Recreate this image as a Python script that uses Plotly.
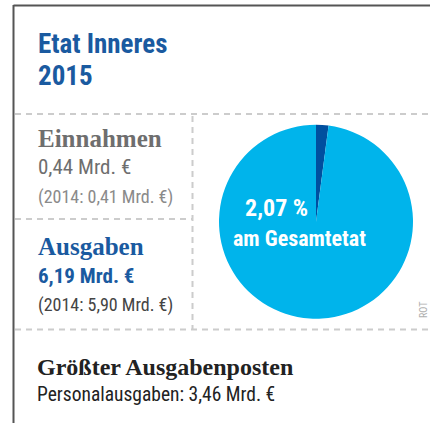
import plotly.graph_objects as go

# ---- data ----
slice_labels = ["Etat Inneres", "Übriger Gesamtetat"]
slice_values = [2.07, 97.93]
slice_colors = ["#004f9f", "#00b4eb"]

title_lines = ["Etat Inneres", "2015"]
einnahmen = ["Einnahmen", "0,44 Mrd. €", "(2014: 0,41 Mrd. €)"]
ausgaben = ["Ausgaben", "6,19 Mrd. €", "(2014: 5,90 Mrd. €)"]
posten = ["Größter Ausgabenposten", "Personalausgaben: 3,46 Mrd. €"]
pie_label = ["2,07 %", "am Gesamtetat"]
source = "ROT"

W, H = 430, 423
SANS = "Liberation Sans Narrow, Roboto Condensed, Liberation Sans, sans-serif"
SERIF = "Liberation Serif, DejaVu Serif, serif"


def px(x):
    return x / W


def py(y):
    return 1 - y / H


fig = go.Figure()
fig.add_trace(go.Pie(
    labels=slice_labels, values=slice_values,
    marker=dict(colors=slice_colors, line=dict(width=0)),
    sort=False, direction="clockwise", rotation=0,
    textinfo="none", hoverinfo="label+percent", showlegend=False,
    domain=dict(x=[px(219), px(413)], y=[py(319.5), py(124)]),
))

ann = []


def text(s, x, y, size, color, family, bold=False, xanchor="left", **kw):
    ann.append(dict(
        text=f"<b>{s}</b>" if bold else s,
        x=px(x), y=py(y), xref="paper", yref="paper",
        xanchor=xanchor, yanchor="middle", showarrow=False,
        font=dict(size=size, color=color, family=family), **kw))


blue = "#1a5aa0"
text(title_lines[0], 36, 44, 27, blue, SANS, bold=True)
text(title_lines[1], 36, 76, 27, blue, SANS, bold=True)

text(einnahmen[0], 36, 138, 25, "#6e6e6e", SERIF, bold=True)
text(einnahmen[1], 36, 167, 21, "#6e6e6e", SANS)
text(einnahmen[2], 36, 197, 18, "#8a8a8a", SANS)

text(ausgaben[0], 36, 247, 25, blue, SERIF, bold=True)
text(ausgaben[1], 36, 276, 21, blue, SANS, bold=True)
text(ausgaben[2], 36, 305, 18, "#444444", SANS)

text(posten[0], 35, 367, 24, "#222222", SERIF, bold=True)
text(posten[1], 35, 394, 19.5, "#222222", SANS)

text(pie_label[0], 276, 208, 24, "white", SANS, bold=True, xanchor="center")
text(pie_label[1], 299, 238, 22, "white", SANS, bold=True, xanchor="center")

text(source, 423, 310, 10, "#b0b0b0", SANS, xanchor="center", textangle=-90)

shapes = []
solid = dict(color="#555555", width=2)
dash = dict(color="#cccccc", width=2, dash="6px,5px")
shapes.append(dict(type="line", xref="paper", yref="paper", x0=px(13.5), x1=px(13.5), y0=py(5), y1=py(423), line=solid))
shapes.append(dict(type="line", xref="paper", yref="paper", x0=px(13.5), x1=px(430), y0=py(5.5), y1=py(5.5), line=solid))
shapes.append(dict(type="line", xref="paper", yref="paper", x0=px(15), x1=px(430), y0=py(114), y1=py(114), line=dash))
shapes.append(dict(type="line", xref="paper", yref="paper", x0=px(15), x1=px(193), y0=py(219), y1=py(219), line=dash))
shapes.append(dict(type="line", xref="paper", yref="paper", x0=px(15), x1=px(430), y0=py(329.5), y1=py(329.5), line=dash))
shapes.append(dict(type="line", xref="paper", yref="paper", x0=px(192.5), x1=px(192.5), y0=py(116), y1=py(329), line=dash))

fig.update_layout(
    width=W, height=H, margin=dict(l=0, r=0, t=0, b=0),
    paper_bgcolor="white", plot_bgcolor="white",
    annotations=ann, shapes=shapes,
)

fig.write_html("out.html", config={"displayModeBar": False},
               post_script="document.body.style.margin='0';document.body.style.overflow='hidden';")
